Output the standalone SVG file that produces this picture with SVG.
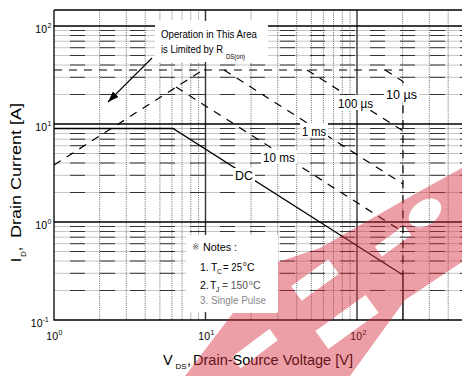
<svg xmlns="http://www.w3.org/2000/svg" width="462" height="376" viewBox="0 0 462 376">
<style>
text{font-family:"Liberation Sans",Arial,"Noto Sans CJK JP",sans-serif;fill:#000}
.gminor{stroke:#c6c6c6;stroke-width:1;fill:none}
.gdash{stroke:#333;stroke-width:1;fill:none;stroke-dasharray:15 15}
.gvert{stroke:#444;stroke-width:0.8;fill:none;stroke-dasharray:1 1.2}
.gmaj{stroke:#000;stroke-width:1.3;fill:none}
.gdec{stroke:#333;stroke-width:1.4;fill:none}
.soa{stroke:#000;stroke-width:1.2;fill:none;stroke-dasharray:8 7}
.dc{stroke:#000;stroke-width:1.3;fill:none}
.bg{fill:#fff}
.lbl{font-size:13px}
.tick{font-size:10.5px}
.sup{font-size:7px}
.note{font-size:10.5px}
.wm{fill:#d42a3a;fill-opacity:0.45;fill-rule:evenodd}
</style>
<defs>
<marker id="ah" markerWidth="12" markerHeight="10" refX="11" refY="4" orient="auto" markerUnits="userSpaceOnUse">
<path d="M0,0 L11,4 L0,8 Z" fill="#000"/>
</marker>
</defs>
<rect width="462" height="376" fill="#fff"/>
<g id="grid">
<path class="gminor" d="M54 30.5H462M54 35.5H462M54 41.2H462M54 47.7H462M54 55.5H462M54 65H462M54 77.3H462M54 94.5H462M54 128.5H462M54 133.5H462M54 139.2H462M54 145.7H462M54 153.5H462M54 163H462M54 175.3H462M54 192.5H462M54 226.5H462M54 231.5H462M54 237.2H462M54 243.7H462M54 251.5H462M54 261H462M54 273.3H462M54 290.5H462"/>
<path class="gdash" d="M70 30.5H462M70 35.5H462M70 41.2H462M70 47.7H462M70 55.5H462M70 65H462M70 77.3H462M70 94.5H462M70 128.5H462M70 133.5H462M70 139.2H462M70 145.7H462M70 153.5H462M70 163H462M70 175.3H462M70 192.5H462M70 226.5H462M70 231.5H462M70 237.2H462M70 243.7H462M70 251.5H462M70 261H462M70 273.3H462M70 290.5H462"/>
<path class="gvert" d="M99.6 10V320M126.3 10V320M145.2 10V320M159.9 10V320M171.9 10V320M182 10V320M190.8 10V320M198.6 10V320M251.1 10V320M277.8 10V320M296.7 10V320M311.4 10V320M323.4 10V320M333.5 10V320M342.3 10V320M350.1 10V320M402.6 10V320M429.3 10V320M448.2 10V320"/>
<path class="gdec" d="M205.5 10V320M357 10V320"/>
<path class="gmaj" d="M54 26H462M54 124H462M54 222H462M54 10H462M54 10V320H462"/>
</g>
<g id="info-box">
<rect class="bg" x="155" y="21" width="113" height="41"/>
<rect class="bg" x="186" y="235" width="92" height="77"/>
</g>
<g id="connectors">
<path id="rds-limit" class="soa" d="M54 165L203 70"/>
<path id="idm-limit" class="soa" d="M54 70H403"/>
<path id="soa-10us" class="soa" d="M385 70L403 81.5V275"/>
<path id="soa-100us" class="soa" d="M307 70L403 131"/>
<path id="soa-1ms" class="soa" d="M224 70L403 184"/>
<path id="soa-10ms" class="soa" d="M176 87L403 232"/>
<path id="soa-dc" class="dc" d="M54 128.5H173L403 275V320"/>
<path id="rds-arrow" stroke="#000" stroke-width="1.1" fill="none" d="M152 58L108 102" marker-end="url(#ah)"/>
</g>
<g id="label-100us">
<rect class="bg" x="336" y="95" width="40" height="15"/>
<text class="lbl" x="338" y="107.5" textLength="35" lengthAdjust="spacingAndGlyphs">100 µs</text>
</g>
<g id="label-10us">
<rect class="bg" x="384" y="87" width="35" height="14"/>
<text class="lbl" x="386" y="99" textLength="31" lengthAdjust="spacingAndGlyphs">10 µs</text>
</g>
<g id="label-1ms">
<rect class="bg" x="300" y="123" width="28" height="14"/>
<text class="lbl" x="302" y="135.5" textLength="24" lengthAdjust="spacingAndGlyphs">1 ms</text>
</g>
<g id="label-10ms">
<rect class="bg" x="261" y="150" width="36" height="14"/>
<text class="lbl" x="263" y="162" textLength="32" lengthAdjust="spacingAndGlyphs">10 ms</text>
</g>
<g id="label-dc">
<rect class="bg" x="233" y="168" width="22" height="14"/>
<text class="lbl" x="235" y="180" textLength="18" lengthAdjust="spacingAndGlyphs">DC</text>
</g>
<g id="note-rds">
<text x="161" y="37.5" font-size="10.5" textLength="96" lengthAdjust="spacingAndGlyphs">Operation in This Area</text>
<text x="161" y="53.3" font-size="10.5" textLength="62" lengthAdjust="spacingAndGlyphs">is Limited by R</text>
<text x="226" y="59" font-size="6.5" textLength="19" lengthAdjust="spacingAndGlyphs">DS(on)</text>
</g>
<g id="notes">
<text x="192" y="250" font-size="8.5" style="font-family:'DejaVu Sans','Noto Sans CJK JP',sans-serif;fill:#555">※</text>
<text x="203" y="251" class="note" textLength="34" lengthAdjust="spacingAndGlyphs">Notes :</text>
<text x="200" y="270.5" class="note">1.</text>
<text x="211" y="270.5" class="note">T</text>
<text x="217" y="273.5" font-size="6.5">C</text>
<text x="223" y="270.5" class="note" textLength="19" lengthAdjust="spacingAndGlyphs">= 25</text>
<text x="243" y="266" font-size="6.5">o</text>
<text x="247" y="270.5" class="note">C</text>
<text x="200" y="289" class="note">2.</text>
<text x="210" y="289" class="note">T</text>
<text x="216" y="292" font-size="6.5" fill="#555">J</text>
<text x="222" y="289" class="note" textLength="26" lengthAdjust="spacingAndGlyphs" style="fill:#555">= 150</text>
<text x="249" y="284.5" font-size="6.5" style="fill:#555">o</text>
<text x="253" y="289" class="note" style="fill:#555">C</text>
<text x="200" y="304" class="note" textLength="66" lengthAdjust="spacingAndGlyphs" style="fill:#888">3. Single Pulse</text>
</g>
<g id="y-ticks">
<text class="tick" x="47" y="33" text-anchor="end">10</text><text class="sup" x="47.5" y="27.5">2</text>
<text class="tick" x="47" y="131" text-anchor="end">10</text><text class="sup" x="47.5" y="125.5">1</text>
<text class="tick" x="47" y="229" text-anchor="end">10</text><text class="sup" x="47.5" y="223.5">0</text>
<text class="tick" x="42.5" y="327" text-anchor="end">10</text><text class="sup" x="42.5" y="321.5">-1</text>
</g>
<g id="x-ticks">
<text class="tick" x="58" y="340" text-anchor="end">10</text><text class="sup" x="58.5" y="334.5">0</text>
<text class="tick" x="210" y="340" text-anchor="end">10</text><text class="sup" x="210.5" y="334.5">1</text>
<text class="tick" x="362" y="340" text-anchor="end">10</text><text class="sup" x="362.5" y="334.5">2</text>
</g>
<g id="x-title">
<text x="163" y="365" font-size="14.5">V</text>
<text x="175.5" y="369" font-size="8">DS</text>
<text x="187" y="365" font-size="14.5">,</text>
<text x="193" y="365" font-size="14.5" textLength="160" lengthAdjust="spacingAndGlyphs">Drain-Source Voltage [V]</text>
</g>
<g id="y-title" transform="translate(21,262) rotate(-90)">
<text x="0" y="0" font-size="14.5">I</text>
<text x="5" y="4.5" font-size="8">D</text>
<text x="11" y="0" font-size="14.5">,</text>
<text x="24" y="0" font-size="14.5" textLength="135" lengthAdjust="spacingAndGlyphs">Drain Current [A]</text>
</g>
<g id="watermark">
<path class="wm" d="M185 376L233 313H278V262L320 248L413 195L462 168V262L405 300L350 376Z
M277.7 340.2L269.5 328.8L232.3 356.8L240.5 368.2Z
M338.9 273.8L328.3 259.2L291.1 286.2L301.7 300.8Z
M378.6 312.7L365.6 294.9L315.4 331.1L328.4 348.9Z
M411.1 235.3L404.1 225.5L374.9 246.7L381.9 256.5Z
M410.4 223.6A18 12 -36 1 0 439.6 202.4A18 12 -36 1 0 410.4 223.6Z"/>
</g>
</svg>
